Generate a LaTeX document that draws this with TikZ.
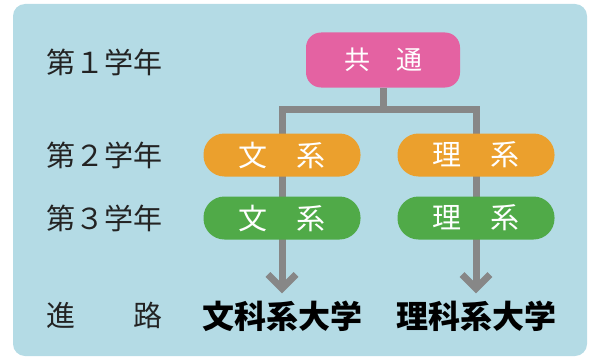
\documentclass[tikz,border=0pt]{standalone}
\usepackage{fontspec}
\setmainfont{Noto Sans CJK JP}
\usepackage{xcolor}
\usepackage{tikz}
\usetikzlibrary{arrows.meta,positioning,backgrounds}

\definecolor{bgblue}{RGB}{180,219,229}
\definecolor{boxpink}{RGB}{228,98,162}
\definecolor{boxorange}{RGB}{235,160,45}
\definecolor{boxgreen}{RGB}{80,170,72}
\definecolor{linegray}{RGB}{135,135,135}
\definecolor{labelgray}{RGB}{35,35,35}

\begin{document}
\begin{tikzpicture}[x=1pt, y=-1pt,
    year/.style={inner sep=0pt, text=labelgray, font=\fontsize{29}{29}\selectfont},
    common/.style={rectangle, fill=boxpink, rounded corners=15pt,
                   minimum width=154pt, minimum height=55pt, inner sep=0pt,
                   text=white, font=\fontsize{26}{26}\selectfont},
    course/.style={rectangle, rounded corners=21pt,
                   minimum width=157pt, minimum height=43pt, inner sep=0pt,
                   text=white, font=\fontsize{29}{29}\selectfont},
    dest/.style={inner sep=0pt, text=black, font=\fontsize{32}{32}\selectfont\bfseries},
    arr/.style={draw=linegray, line width=7pt, -{Straight Barb[length=14pt, width=28pt]}},
  ]
  \useasboundingbox (0,0) rectangle (591,361);

  % Year labels
  \node[year] (y1) at (104.5,62) {第１学年};
  \node[year] (y2) at (104.5,155) {第２学年};
  \node[year] (y3) at (104.5,218) {第３学年};
  \node[year] (y4) at (104.5,315) {進　　路};

  % Course boxes
  \node[common] (kyo) at (383,60) {共　通};
  \node[course, fill=boxorange] (bun2) at (282,155) {文　系};
  \node[course, fill=boxorange] (ri2) at (476,155) {理　系};
  \node[course, fill=boxgreen] (bun3) at (282,218) {文　系};
  \node[course, fill=boxgreen] (ri3) at (476,218) {理　系};

  % Destinations
  \node[dest] (bundai) at (282,316) {文科系大学};
  \node[dest] (ridai) at (476,316) {理科系大学};

  \coordinate (fork) at (383,109);

  \begin{scope}[on background layer]
    \fill[bgblue, rounded corners=12pt] (13,4) rectangle (587,356);
    \draw[arr] (kyo.south) -- (fork) -| ([yshift=7pt]bundai.north);
    \draw[arr] (fork) -| ([yshift=7pt]ridai.north);
  \end{scope}

\end{tikzpicture}
\end{document}
